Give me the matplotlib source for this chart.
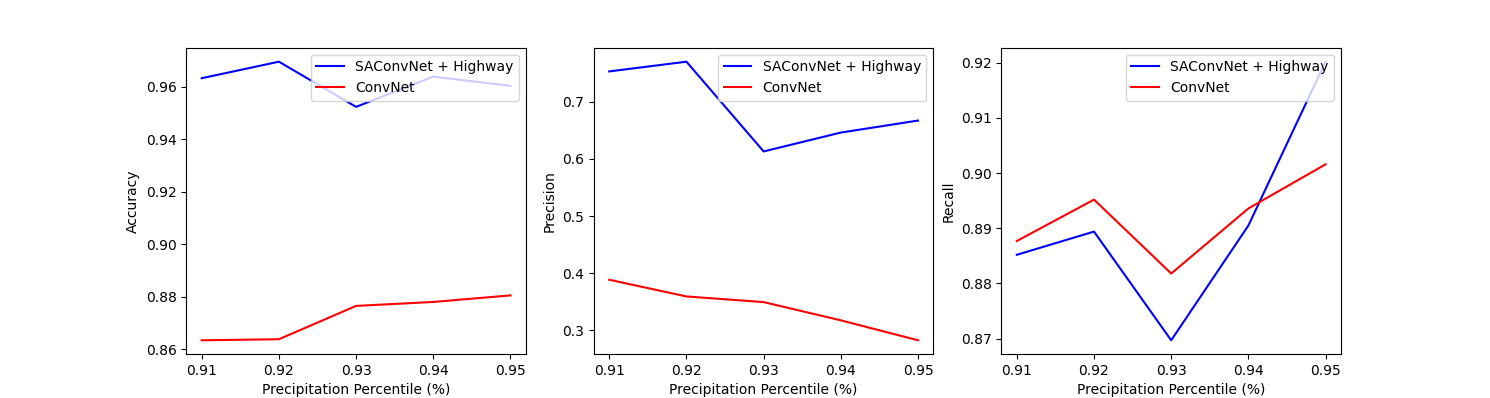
import matplotlib
matplotlib.use("Agg")
import matplotlib.pyplot as plt

percentiles = [0.91, 0.92, 0.93, 0.94, 0.95]

# SAConvNet + Highway
sa_accuracy = [0.9633, 0.9696, 0.9524, 0.9639, 0.9604]
sa_precision = [0.753, 0.770, 0.613, 0.646, 0.667]
sa_recall = [0.8852, 0.8894, 0.8697, 0.8905, 0.9202]

# ConvNet
cn_accuracy = [0.8635, 0.8639, 0.8766, 0.8781, 0.8806]
cn_precision = [0.3885, 0.3593, 0.3494, 0.3175, 0.2826]
cn_recall = [0.8877, 0.8952, 0.8818, 0.8936, 0.9016]

metrics = ["Accuracy", "Precision", "Recall"]
sa_vals = [sa_accuracy, sa_precision, sa_recall]
cn_vals = [cn_accuracy, cn_precision, cn_recall]

fig, axes = plt.subplots(1, 3, figsize=(14.9, 3.98), dpi=100)
for ax, name, sa, cn in zip(axes, metrics, sa_vals, cn_vals):
    ax.plot(percentiles, sa, color="blue", label="SAConvNet + Highway")
    ax.plot(percentiles, cn, color="red", label="ConvNet")
    ax.set_xticks(percentiles)
    ax.set_xlabel("Precipitation Percentile (%)")
    ax.set_ylabel(name)
    ax.legend(loc="upper right")

fig.savefig("out.png", dpi=100)
